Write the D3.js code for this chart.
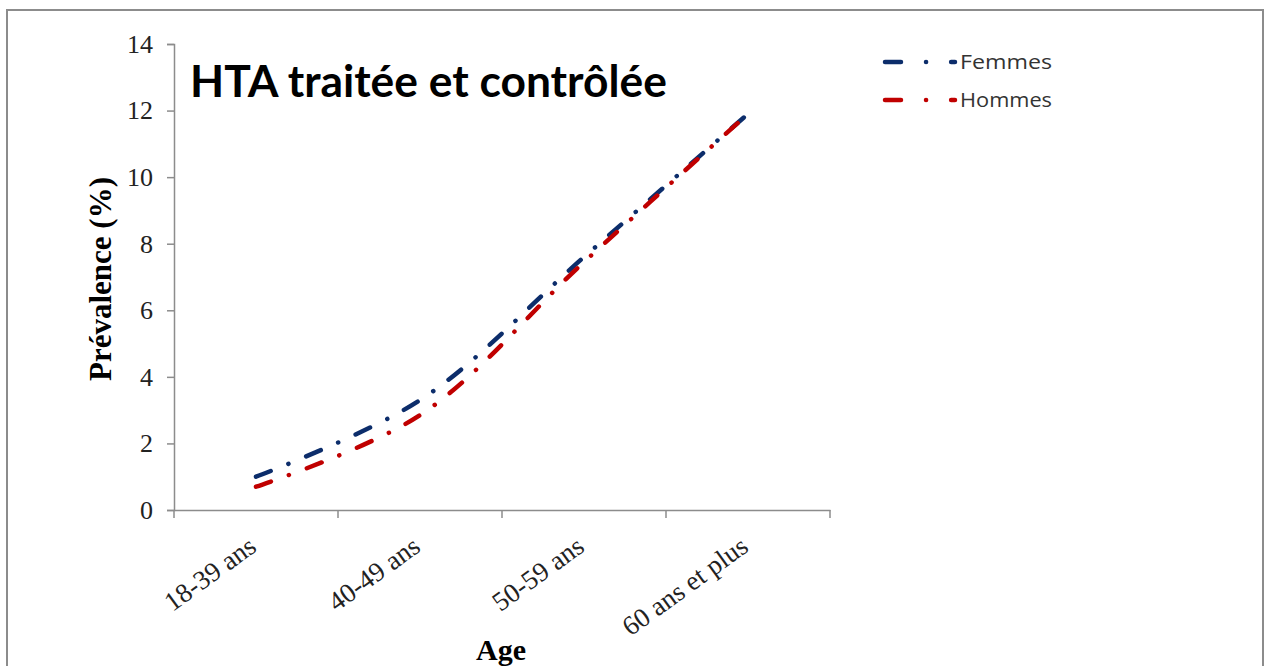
<!DOCTYPE html>
<html>
<head>
<meta charset="utf-8">
<script src="https://cdn.jsdelivr.net/npm/d3@7"></script>
<style>
  body { margin: 0; background: #fff; }
  svg { display: block; }
</style>
</head>
<body>
<div id="chart"></div>
<script>

const categories = ["18-39 ans", "40-49 ans", "50-59 ans", "60 ans et plus"];
const femmes = [1.0, 3.3, 7.6, 11.9];
const hommes = [0.7, 2.85, 7.45, 11.9];
const yTicks = [0, 2, 4, 6, 8, 10, 12, 14];

const series = [
	{ name: "Femmes", values: femmes, color: "#0c2d6b" },
	{ name: "Hommes", values: hommes, color: "#c00000" }
];

let width = 1268;
let height = 666;

let serif = '"Liberation Serif", "Times New Roman", serif';

let svg = d3.select('#chart').append('svg')
.attr('width', width)
.attr('height', height);

// outer frame
svg.append('rect')
.attr('x', 7)
.attr('y', 10)
.attr('width', 1256)
.attr('height', 700)
.attr('fill', 'none')
.attr('stroke', '#8c8c8c')
.attr('stroke-width', 2);

let x = d3.scaleBand()
.domain(categories)
.range([174, 830]);

let y = d3.scaleLinear()
.domain([0, 14])
.range([510, 44]);

let axisColor = '#8c8c8c';

let yAxis = svg.append('g')
.attr('transform', 'translate(174,0)')
.call(d3.axisLeft(y).tickValues(yTicks).tickSize(7).tickPadding(14));

let xAxis = svg.append('g')
.attr('transform', 'translate(0,510)')
.call(d3.axisBottom(x).tickSize(0).tickFormat(''));

// category boundary ticks (Excel style, between categories)
xAxis.selectAll('.bound')
.data(categories.map(c => x(c)).concat([x.range()[1]]))
.enter()
.append('line')
.attr('class', 'bound')
.attr('x1', d => d)
.attr('x2', d => d)
.attr('y1', 0)
.attr('y2', 8);

svg.selectAll('.domain, .tick line, .bound')
.attr('stroke', axisColor)
.attr('stroke-width', 1.5);

yAxis.selectAll('.tick text')
.style('font-family', serif)
.style('font-size', '26px')
.attr('fill', '#222');

// rotated category labels
svg.append('g')
.selectAll('text')
.data(categories)
.enter()
.append('text')
.attr('transform', d => 'translate(' + (x(d) + x.bandwidth() / 2 + 2) + ',550) rotate(-36)')
.attr('text-anchor', 'end')
.style('font-family', serif)
.style('font-size', '27px')
.attr('fill', '#222')
.text(d => d);

// axis titles
svg.append('text')
.attr('x', 501)
.attr('y', 660)
.attr('text-anchor', 'middle')
.style('font-family', serif)
.style('font-size', '30px')
.style('font-weight', 'bold')
.text('Age');

svg.append('text')
.attr('transform', 'translate(111,279) rotate(-90)')
.attr('text-anchor', 'middle')
.style('font-family', serif)
.style('font-size', '31px')
.style('font-weight', 'bold')
.text('Prévalence (%)');

// chart title
let title = svg.append('text')
.attr('x', 190)
.attr('y', 97)
.style('font-family', 'Lato, "Open Sans", sans-serif')
.style('font-size', '36px')
.style('font-weight', 'bold')
.attr('fill', '#000')
.text('HTA traitée et contrôlée');

let tw = title.node().getComputedTextLength();
title.style('font-size', (36 * 477 / tw) + 'px');

// lines
let line = d3.line()
.x((d, i) => x(categories[i]) + x.bandwidth() / 2)
.y(d => y(d))
.curve(d3.curveCatmullRom.alpha(0.5));

let dash = '16,19,0.1,19';

svg.append('g')
.selectAll('path')
.data(series)
.enter()
.append('path')
.attr('d', d => line(d.values))
.attr('fill', 'none')
.attr('stroke', d => d.color)
.attr('stroke-width', 4.5)
.attr('stroke-linecap', 'round')
.attr('stroke-dasharray', dash);

// legend
let legend = svg.append('g')
.selectAll('g')
.data(series)
.enter()
.append('g')
.attr('transform', (d, i) => 'translate(885,' + (62 + i * 38) + ')');

legend.append('line')
.attr('x1', 0)
.attr('x2', 70)
.attr('stroke', d => d.color)
.attr('stroke-width', 4.5)
.attr('stroke-linecap', 'round')
.attr('stroke-dasharray', '16,25,0.1,25');

legend.append('text')
.attr('x', 75)
.attr('y', 7)
.attr('textLength', 92)
.attr('lengthAdjust', 'spacingAndGlyphs')
.style('font-family', '"Open Sans", "Liberation Sans", sans-serif')
.style('font-size', '20px')
.attr('fill', '#333')
.text(d => d.name);

</script>
</body>
</html>
